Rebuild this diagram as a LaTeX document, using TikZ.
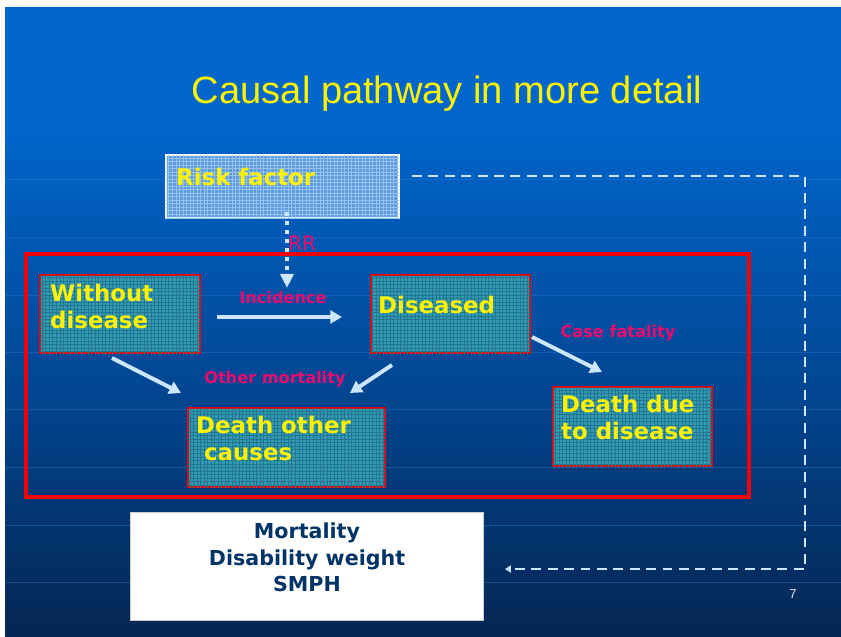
\documentclass[tikz,border=0pt]{standalone}
\usepackage{fontspec}
\setmainfont{DejaVu Sans}
\newfontfamily\titlefont{Liberation Sans}
\usepackage{tikz}
\usetikzlibrary{arrows.meta,calc,patterns}
\definecolor{bgtop}{RGB}{0,102,204}
\definecolor{bgmid}{RGB}{2,72,150}
\definecolor{bgbot}{RGB}{4,38,82}
\definecolor{gridline}{RGB}{45,125,215}
\definecolor{tealfill}{RGB}{50,155,178}
\definecolor{tealmesh}{RGB}{35,118,145}
\definecolor{riskfill}{RGB}{90,155,222}
\definecolor{riskmesh}{RGB}{150,195,240}
\definecolor{flowblue}{RGB}{205,230,255}
\definecolor{ratepink}{RGB}{235,10,110}
\definecolor{outnavy}{RGB}{0,51,102}
\definecolor{boxred}{RGB}{240,0,0}
\pgfdeclareverticalshading{slidebg}{100bp}{color(0bp)=(bgbot); color(25bp)=(bgbot); color(46bp)=(bgmid); color(66bp)=(bgtop); color(100bp)=(bgtop)}

\begin{document}
\begin{tikzpicture}[x=0.03cm,y=-0.03cm,
  stage/.style={draw=boxred,line width=1.5pt,fill=tealfill,postaction={pattern=grid,pattern color=tealmesh},minimum height=2.34cm,inner sep=0pt,outer sep=0pt},
  riskbox/.style={draw=white,line width=1.2pt,fill=riskfill,postaction={pattern=grid,pattern color=riskmesh},minimum width=6.99cm,minimum height=1.89cm,inner sep=0pt,outer sep=0pt},
  stagetext/.style={text=yellow,font=\bfseries\fontsize{19.5}{22.8}\selectfont,align=left,anchor=north west,inner sep=0pt},
  rate/.style={text=ratepink,font=\bfseries\fontsize{13.8}{16}\selectfont,anchor=base,inner sep=0pt},
  flow/.style={draw=flowblue,line width=3.4pt,-{Triangle[length=10pt,width=11pt]}},
  rrlink/.style={draw=flowblue,line width=3.4pt,dash pattern=on 3.4pt off 4.3pt,-{Triangle[length=12pt,width=11pt]}},
  feedback/.style={draw=flowblue,line width=1.8pt,dash pattern=on 8.5pt off 5.5pt,-{Triangle[length=5pt,width=6pt]}}]
\useasboundingbox (0,0) rectangle (841,636);
\fill[white] (0,0) rectangle (841,636);
\shade[shading=slidebg] (5,7) rectangle (841,636);
\foreach \y in {179,237,295,352,409,467,525,582}
  \draw[gridline,line width=0.6pt,opacity=0.4] (5,\y) -- (841,\y);

\node[text=yellow,font=\titlefont\fontsize{32.5}{36}\selectfont,anchor=base,inner sep=0pt] (title) at (447,103) {Causal pathway in more detail};

\draw[boxred,line width=3pt] (26,254) rectangle (749,497);

\node[riskbox] (rf) at (282.5,186.5) {};
\node[stage,minimum width=4.8cm] (wd) at (120,314) {};
\node[stage,minimum width=4.77cm] (dis) at (450.5,314) {};
\node[stage,minimum width=5.91cm,minimum height=2.37cm] (doc) at (286.5,447.5) {};
\node[stage,minimum width=4.77cm,minimum height=2.37cm] (dd) at (632.5,426.5) {};
\node[draw=gray!40,fill=white,line width=0.6pt,minimum width=10.59cm,minimum height=3.24cm,inner sep=0pt,outer sep=0pt] (out) at (306.5,566) {};

\node[stagetext] (rftext) at (176,168) {Risk factor};
\node[stagetext] (wdtext) at (50,284) {Without\\disease};
\node[stagetext] (distext) at (378,296) {Diseased};
\node[stagetext] (doctext) at (196,416) {Death other\\\hspace*{0.348em}causes};
\node[stagetext] (ddtext) at (561,395) {Death due\\to disease};
\node[text=outnavy,font=\bfseries\fontsize{17.6}{22.3}\selectfont,align=center,anchor=north,inner sep=0pt] (outtext) at (307,523) {Mortality\\Disability weight\\SMPH};

\coordinate (rrtip) at (287,288);
\draw[rrlink] ($(rf.south)+(4.5,-6)$) -- (rrtip);
\node[text=ratepink,font=\fontsize{17}{20}\selectfont,anchor=base west,inner sep=0pt] (rr) at (288,250) {RR};

\draw[flow] ($(wd.east)+(17,3)$) -- ($(dis.west)+(-29,3)$);
\draw[flow] ($(wd.south)+(-8,5)$) -- ($(doc.north west)+(-7,-15)$);
\draw[flow] ($(dis.south west)+(21,12)$) -- ($(doc.north east)+(-35,-15)$);
\draw[flow] ($(dis.east)+(2,23)$) -- ($(dd.north)+(-30.5,-15)$);

\node[rate] (inc) at (283,303) {Incidence};
\node[rate] (othmort) at (275,383) {Other mortality};
\node[rate] (casefat) at (618,337) {Case fatality};

\draw[feedback] ($(rf.east)+(13,-10.5)$) -| ($(out.east)+(322,3)$) -- ($(out.east)+(22,3)$);

\node[text=gray!20,font=\titlefont\fontsize{11}{13}\selectfont,anchor=base,inner sep=0pt] (pagenum) at (793,598) {7};
\end{tikzpicture}
\end{document}
